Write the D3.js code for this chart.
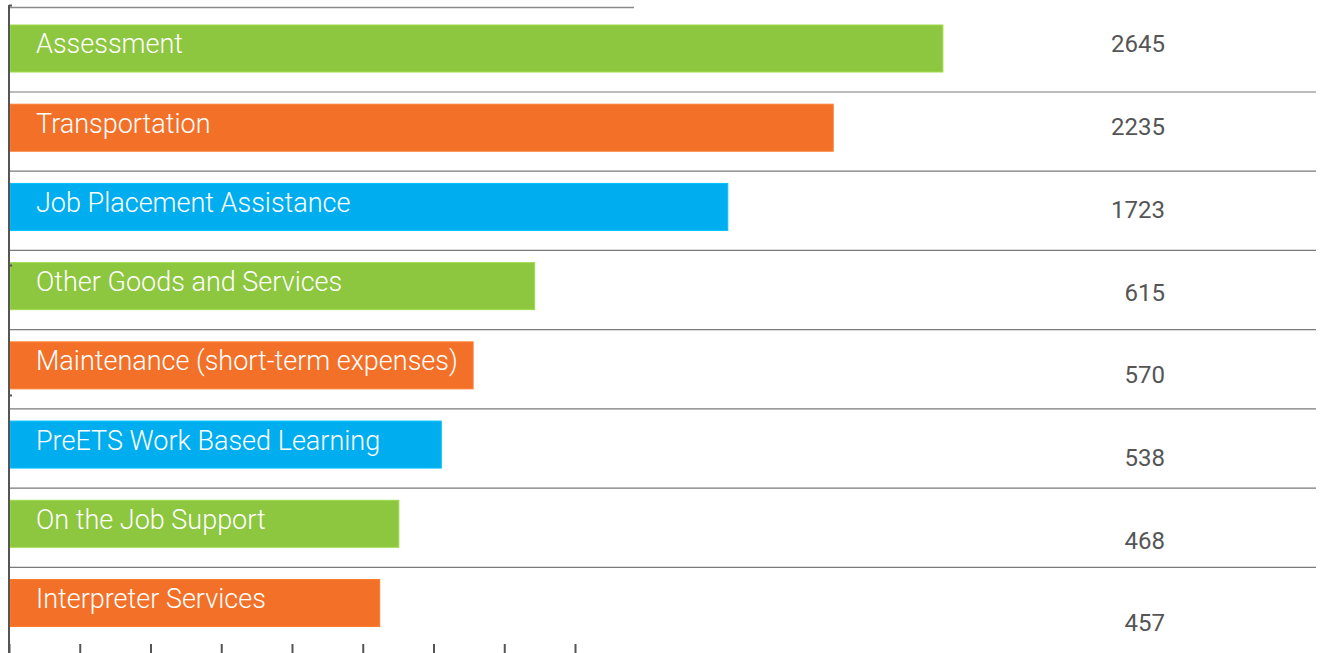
<!DOCTYPE html>
<html>
<head>
<meta charset="utf-8">
<script src="https://cdn.jsdelivr.net/npm/d3@7"></script>
<style>
body { margin: 0; background: #fff; }
text { font-family: Roboto, "Noto Sans", sans-serif; }
</style>
</head>
<body>
<script>
var categories = ["Assessment", "Transportation", "Job Placement Assistance", "Other Goods and Services",
	"Maintenance (short-term expenses)", "PreETS Work Based Learning", "On the Job Support", "Interpreter Services"];
var counts = [2645, 2235, 1723, 615, 570, 538, 468, 457];
// bar lengths as drawn, in axis tick units
var barLength = [13.2, 11.65, 10.16, 7.43, 6.56, 6.11, 5.51, 5.24];
var barColors = ["#8dc63f", "#f37029", "#00aeef"];
var xTicks = [0, 1, 2, 3, 4, 5, 6, 7, 8];
var yTicks = [0, 2, 3];

function main(){
	var w = 1324;
	var h = 653;

	var svg = d3.select("body")
				.append("svg")
				.attr("width", w)
				.attr("height", h);

	var xScale = d3.scaleLinear()
					.domain([0, 8])
					.range([9, 575]);

	var yScale = d3.scalePoint()
					.domain(categories)
					.range([48.5, 603]);

	var valueScale = d3.scalePoint()
					.domain(categories)
					.range([44, 623]);

	var barH = 47;

	// top rule
	svg.append("line")
		.attr("x1", 10).attr("x2", 634)
		.attr("y1", 7.5).attr("y2", 7.5)
		.attr("stroke", "#8a8a8a").attr("stroke-width", 1.5);

	// row separators
	svg.selectAll(".sep")
		.data(categories.slice(0, -1))
		.enter()
		.append("line")
		.attr("class", "sep")
		.attr("x1", 10).attr("x2", 1316)
		.attr("y1", function(d){ return yScale(d) + 43.5; })
		.attr("y2", function(d){ return yScale(d) + 43.5; })
		.attr("stroke", "#7a7a7a").attr("stroke-width", 1.2);

	// bars
	svg.selectAll(".bar")
		.data(categories)
		.enter()
		.append("rect")
		.attr("class", "bar")
		.attr("x", 10)
		.attr("y", function(d){ return yScale(d) - barH / 2; })
		.attr("width", function(d, i){ return xScale(barLength[i]) - 10; })
		.attr("height", barH)
		.attr("fill", function(d, i){ return barColors[i % 3]; })
		.attr("stroke", function(d, i){ return d3.color(barColors[i % 3]).brighter(0.3); })
		.attr("stroke-width", 1);

	// left axis with small inward ticks
	var yAxis = d3.axisLeft(d3.scaleLinear().domain([0, 5]).range([5, 655]))
					.tickValues(yTicks)
					.tickSize(-3)
					.tickFormat("");
	var gy = svg.append("g")
		.attr("transform", "translate(9,0)")
		.call(yAxis);
	gy.select(".domain").remove();
	gy.selectAll("line").attr("stroke", "#555").attr("stroke-width", 2);

	svg.append("line")
		.attr("x1", 9).attr("x2", 9)
		.attr("y1", 5).attr("y2", h)
		.attr("stroke", "#555").attr("stroke-width", 2);

	// labels inside bars
	svg.selectAll(".lbl")
		.data(categories)
		.enter()
		.append("text")
		.attr("class", "lbl")
		.attr("x", 36)
		.attr("y", function(d){ return yScale(d) - 4.5; })
		.attr("dy", "0.35em")
		.attr("fill", "#fff")
		.attr("font-size", 27)
		.attr("font-weight", 300)
		.text(function(d){ return d; });

	// count values
	svg.selectAll(".val")
		.data(categories)
		.enter()
		.append("text")
		.attr("class", "val")
		.attr("x", 1165)
		.attr("y", function(d){ return valueScale(d); })
		.attr("dy", "0.35em")
		.attr("text-anchor", "end")
		.attr("fill", "#555")
		.attr("font-size", 24)
		.text(function(d, i){ return counts[i]; });

	// bottom axis ticks
	var xAxis = d3.axisBottom(xScale)
					.tickValues(xTicks)
					.tickSize(12)
					.tickFormat("");
	var gx = svg.append("g")
		.attr("transform", "translate(0," + 644 + ")")
		.call(xAxis);
	gx.select(".domain").remove();
	gx.selectAll("line").attr("stroke", "#555").attr("stroke-width", 2);
}

main();
</script>
</body>
</html>
